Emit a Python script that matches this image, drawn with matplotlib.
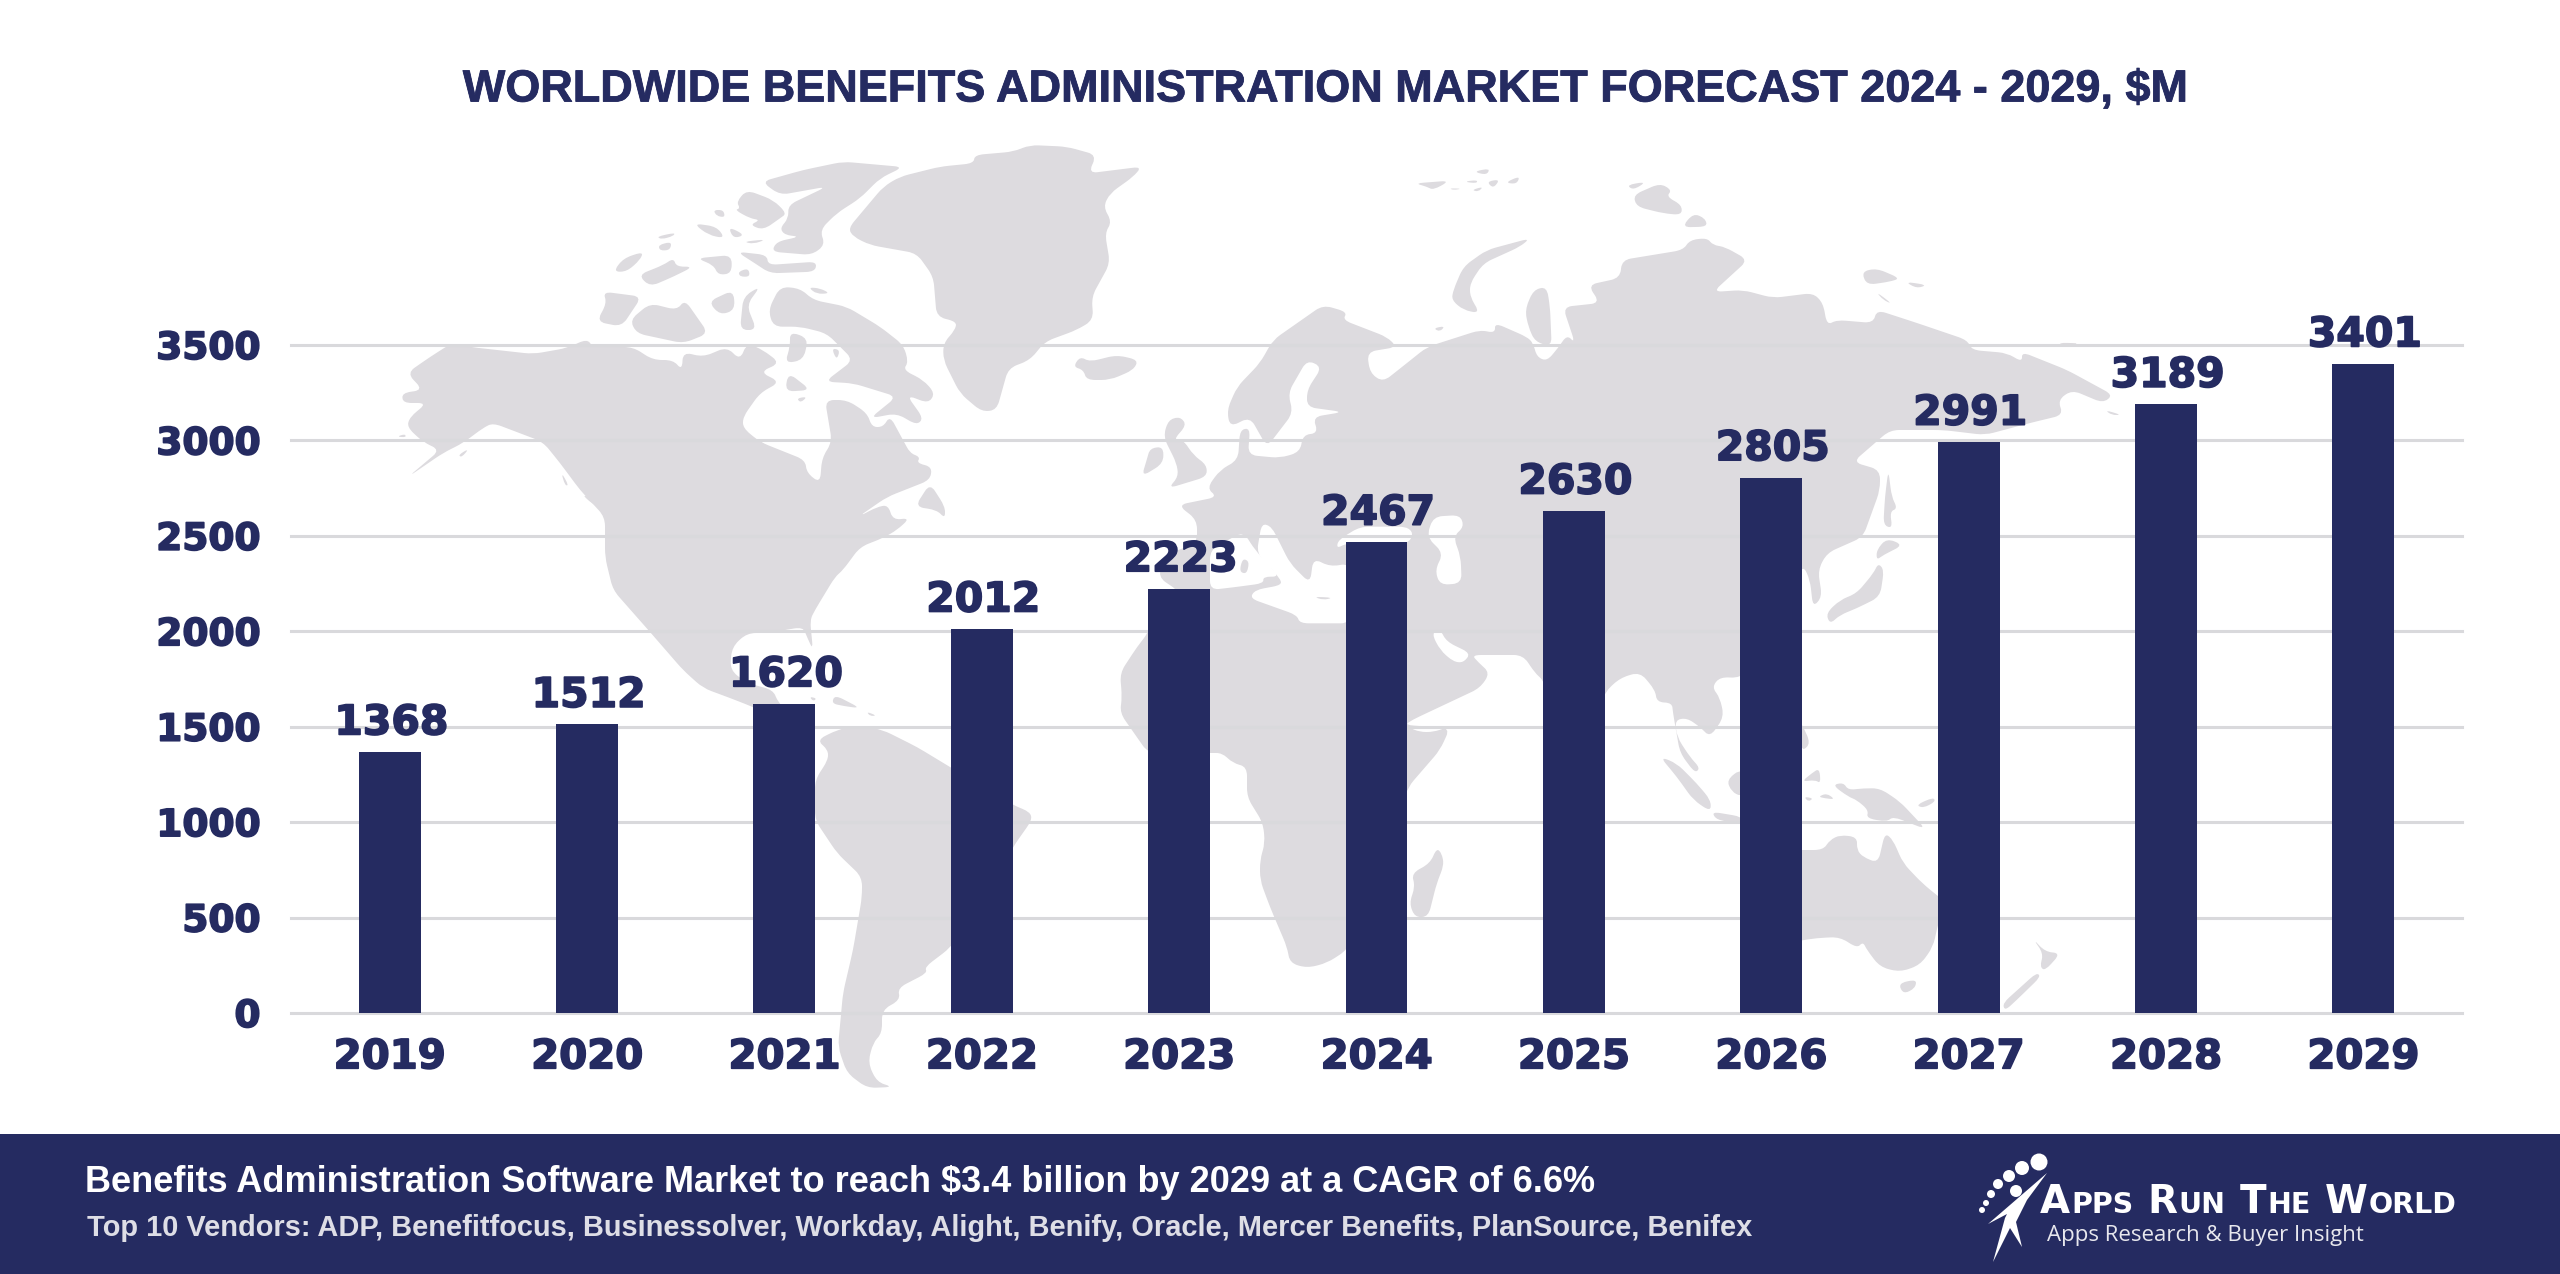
#!/usr/bin/env python3
"""Worldwide benefits administration market forecast chart."""

import math

import matplotlib
matplotlib.use("Agg")
import matplotlib.patheffects as pe
import matplotlib.pyplot as plt
from matplotlib.patches import Circle, PathPatch, Polygon, Rectangle
from matplotlib.path import Path

NAVY = "#252B61"
MAP_GRAY = "#DDDBDF"
GRID = "#D9D9DC"
FONT = ["Liberation Sans", "DejaVu Sans"]

years = ["2019", "2020", "2021", "2022", "2023", "2024", "2025", "2026", "2027", "2028", "2029"]
market = [1368, 1512, 1620, 2012, 2223, 2467, 2630, 2805, 2991, 3189, 3401]
y_ticks = [0, 500, 1000, 1500, 2000, 2500, 3000, 3500]

title = "WORLDWIDE BENEFITS ADMINISTRATION MARKET FORECAST 2024 - 2029, $M"
headline = "Benefits Administration Software Market to reach $3.4 billion by 2029 at a CAGR of 6.6%"
vendors = ("Top 10 Vendors: ADP, Benefitfocus, Businessolver, Workday, Alight, Benify, "
           "Oracle, Mercer Benefits, PlanSource, Benifex")

# ---------------------------------------------------------------------------
# Background map, decoration only. Outlines traced in pixels of the picture.
# ---------------------------------------------------------------------------

NORTH_AMERICA = [
    (430, 357), (452, 343), (470, 347), (533, 354), (567, 348), (587, 339), (593, 347), (633, 347),
    (653, 360), (673, 360), (682, 370), (683, 352), (703, 357), (727, 347), (740, 360), (747, 343),
    (763, 350), (780, 363), (760, 372), (780, 382), (760, 393), (743, 417), (743, 428), (760, 442),
    (805, 460), (807, 473), (820, 483), (822, 458), (832, 442), (825, 400), (847, 400), (867, 413),
    (872, 427), (883, 427), (890, 416), (903, 440), (910, 453), (920, 457), (917, 463), (932, 467),
    (930, 480), (887, 497), (858, 517), (877, 507), (888, 505), (893, 520), (910, 518), (897, 530),
    (883, 538), (860, 547), (843, 570), (835, 577), (815, 610), (810, 620), (813, 650), (807, 637),
    (803, 627), (767, 633), (747, 633), (732, 647), (730, 670), (747, 683), (773, 690), (778, 702),
    (790, 715), (805, 730), (817, 745), (790, 745), (770, 715), (753, 707), (730, 698), (703, 688),
    (683, 670), (650, 632), (613, 590), (605, 557), (605, 517), (580, 490), (560, 463), (543, 442),
    (493, 423), (483, 428), (463, 443), (443, 453), (408, 477), (440, 450), (423, 442), (407, 427),
    (410, 417), (427, 403), (403, 403), (402, 393), (423, 390), (407, 373),
]
SOUTH_AMERICA = [
    (817, 740), (828, 750), (828, 760), (815, 780), (815, 820), (837, 853), (862, 877), (862, 897),
    (853, 950), (843, 993), (838, 1047), (847, 1073), (867, 1088), (893, 1087), (877, 1082),
    (868, 1063), (873, 1043), (882, 1033), (882, 1010), (900, 1000), (898, 988), (927, 973),
    (925, 967), (950, 948), (985, 900), (1013, 847), (1032, 820), (1030, 812), (1013, 805),
    (950, 767), (917, 747), (883, 730), (857, 725), (837, 730),
]
EURASIA_AFRICA = [
    (1178, 505), (1217, 497), (1207, 488), (1220, 470), (1238, 460), (1240, 430), (1250, 428),
    (1248, 455), (1280, 458), (1300, 452), (1303, 435), (1318, 433), (1313, 417), (1343, 412),
    (1307, 407), (1307, 390), (1322, 367), (1307, 360), (1288, 393), (1293, 413), (1280, 430),
    (1267, 447), (1250, 417), (1230, 427), (1227, 410), (1237, 387), (1260, 363), (1273, 340),
    (1323, 305), (1347, 312), (1343, 320), (1387, 337), (1397, 347), (1367, 352), (1370, 373),
    (1383, 382), (1407, 363), (1427, 347), (1480, 330), (1495, 333), (1495, 323), (1527, 337),
    (1533, 343), (1537, 357), (1547, 361), (1558, 348), (1567, 335), (1575, 343), (1563, 307),
    (1600, 303), (1588, 285), (1620, 278), (1622, 260), (1683, 250), (1690, 240), (1707, 238),
    (1713, 245), (1725, 247), (1748, 260), (1713, 292), (1743, 290), (1773, 298), (1813, 293),
    (1823, 303), (1827, 325), (1837, 320), (1873, 323), (1877, 310), (1917, 323), (1967, 340),
    (1972, 350), (2007, 353), (2022, 362), (2022, 352), (2067, 370), (2113, 395), (2103, 403),
    (2072, 390), (2058, 400), (2063, 415), (2030, 423), (1985, 435), (1943, 430), (1890, 430),
    (1853, 462), (1880, 470), (1880, 490), (1863, 537), (1827, 553), (1818, 570), (1822, 597),
    (1813, 607), (1810, 580), (1803, 565), (1760, 660), (1740, 678), (1720, 677), (1712, 687),
    (1720, 698), (1724, 717), (1710, 737), (1700, 727), (1687, 718), (1675, 720), (1677, 737),
    (1690, 757), (1700, 768), (1695, 773), (1680, 753), (1673, 713), (1672, 703), (1657, 702),
    (1655, 690), (1640, 672), (1620, 678), (1605, 692), (1590, 730), (1575, 745), (1560, 720),
    (1543, 680), (1535, 673), (1523, 655), (1472, 655), (1478, 662), (1490, 673), (1480, 688),
    (1412, 720), (1405, 725), (1450, 728), (1440, 750), (1408, 787), (1375, 890), (1347, 950),
    (1327, 963), (1307, 968), (1290, 963), (1287, 947), (1270, 907), (1260, 880), (1260, 860),
    (1265, 843), (1263, 823), (1247, 797), (1247, 767), (1233, 763), (1222, 753), (1210, 753),
    (1148, 753), (1120, 713), (1122, 697), (1120, 673), (1137, 647), (1148, 633), (1160, 600),
    (1180, 592), (1158, 577), (1165, 555), (1197, 543), (1197, 520),
]
AUSTRALIA = [
    (1740, 850), (1802, 850), (1823, 850), (1830, 840), (1840, 835), (1857, 837), (1857, 850),
    (1863, 857), (1878, 863), (1885, 833), (1893, 840), (1903, 863), (1922, 883), (1939, 897),
    (1950, 905), (1939, 920), (1933, 947), (1920, 965), (1900, 972), (1880, 967), (1867, 950),
    (1863, 942), (1857, 948), (1840, 937), (1817, 938), (1740, 950),
]

# Smaller shapes given as (left, top of the zoomed crop, points at 3x).
ISLANDS = [
    (380, 130, [(1270, 120), (1145, 155), (1200, 195), (1340, 170), (1225, 225), (1225, 265), (1200, 295),
                (1215, 315), (1260, 320), (1190, 335), (1175, 365), (1295, 375), (1335, 345), (1320, 300),
                (1370, 250), (1440, 205), (1500, 145), (1570, 111), (1390, 95)]),
    (380, 130, [(1100, 180), (1070, 215), (1080, 235), (1065, 240), (1110, 265), (1140, 270), (1110, 285),
                (1150, 300), (1200, 265), (1220, 250), (1180, 210)]),
    (380, 130, [(1000, 240), (1030, 240), (1035, 262), (1010, 258)]),
    (380, 130, [(940, 280), (1010, 290), (1035, 325), (985, 315)]),
    (380, 130, [(1045, 290), (1095, 315), (1060, 325)]),
    (380, 130, [(1090, 335), (1160, 328), (1120, 342)]),
    (380, 130, [(700, 425), (730, 385), (790, 365), (780, 390), (740, 425)]),
    (380, 130, [(775, 435), (850, 405), (880, 385), (890, 410), (940, 410), (880, 440), (810, 470)]),
    (380, 130, [(950, 385), (1055, 375), (1055, 430), (1015, 435), (1000, 405)]),
    (380, 130, [(1070, 365), (1160, 375), (1165, 405), (1310, 395), (1305, 425), (1170, 430), (1125, 400)]),
    (380, 130, [(1075, 425), (1105, 415), (1110, 440), (1080, 440)]),
    (380, 130, [(830, 320), (885, 308), (880, 318), (845, 328)]),
    (380, 130, [(835, 345), (875, 335), (870, 360), (840, 362)]),
    (380, 130, [(670, 485), (785, 500), (725, 590), (650, 575), (680, 520)]),
    (380, 130, [(750, 570), (810, 520), (890, 540), (915, 510), (985, 610), (910, 640), (770, 610)]),
    (380, 130, [(985, 515), (1060, 480), (1065, 540), (1020, 555)]),
    (380, 130, [(1090, 500), (1142, 468), (1100, 525), (1130, 600), (1080, 600)]),
    (380, 130, [(1165, 540), (1200, 470), (1260, 475), (1300, 510), (1400, 530), (1500, 590), (1570, 645),
                (1585, 695), (1570, 720), (1630, 750), (1665, 790), (1645, 820), (1580, 795), (1630, 865),
                (1610, 885), (1550, 850), (1470, 865), (1550, 800), (1420, 760), (1335, 755), (1420, 690),
                (1340, 610), (1260, 590), (1180, 590)]),
    (380, 130, [(1230, 605), (1285, 625), (1270, 690), (1215, 700), (1230, 650)]),
    (380, 130, [(1225, 728), (1292, 780), (1215, 785)]),
    (380, 130, [(1355, 655), (1380, 660), (1370, 690)]),
    (380, 130, [(1250, 805), (1282, 800), (1262, 818)]),
    (380, 130, [(1285, 472), (1320, 475), (1350, 490), (1310, 492)]),
    (380, 130, [(50, 920), (75, 912), (78, 922)]),
    (380, 130, [(543, 1025), (566, 1066), (555, 1066)]),
    (380, 130, [(603, 1090), (695, 1140), (640, 1125)]),
    (380, 130, [(235, 975), (268, 955), (245, 982)]),
    # Greenland, Iceland and the British Isles
    (800, 130, [(145, 295), (250, 170), (300, 140), (420, 110), (520, 100), (525, 75), (640, 65), (690, 45),
                (800, 50), (890, 75), (865, 130), (1025, 110), (1000, 140), (930, 190), (910, 230), (935, 275),
                (915, 310), (930, 400), (875, 500), (880, 570), (830, 600), (735, 635), (690, 690), (625, 715),
                (590, 840), (545, 845), (480, 790), (430, 690), (430, 640), (465, 600), (470, 575), (410, 560),
                (400, 440), (350, 370), (210, 345), (160, 320)]),
    (800, 130, [(820, 710), (840, 680), (870, 695), (950, 675), (1015, 690), (1000, 720), (930, 750),
                (860, 750), (850, 720)]),
    (800, 130, [(1120, 930), (1150, 930), (1180, 975), (1220, 1005), (1220, 1040), (1105, 1075), (1135, 1040),
                (1130, 1000), (1090, 920), (1105, 870), (1140, 860), (1160, 885)]),
    (800, 130, [(1050, 955), (1090, 950), (1090, 1000), (1025, 1040), (1040, 990)]),
    (800, 130, [(390, 1060), (435, 1130), (435, 1165), (410, 1140), (345, 1130)]),
    # Arctic Russia
    (1200, 150, [(760, 420), (790, 350), (860, 300), (990, 265), (960, 290), (850, 340), (810, 400), (810, 440),
                 (840, 490), (790, 480), (755, 450)]),
    (1200, 150, [(975, 480), (1000, 420), (1040, 410), (1050, 470), (1055, 590), (1005, 575), (985, 530)]),
    (1200, 150, [(645, 100), (750, 92), (700, 120), (680, 110)]),
    (1200, 150, [(790, 95), (832, 90), (830, 100)]),
    (1200, 150, [(820, 65), (870, 55), (860, 75)]),
    (1200, 150, [(860, 95), (900, 88), (880, 115)]),
    (1200, 150, [(915, 98), (960, 78), (950, 102)]),
    (1200, 150, [(748, 115), (787, 116), (760, 120)]),
    (1200, 150, [(815, 120), (850, 110), (835, 125)]),
    (1200, 150, [(1280, 105), (1340, 95), (1300, 120)]),
    (1200, 150, [(700, 535), (735, 528), (720, 545)]),
    (1650, 150, [(-50, 135), (30, 100), (65, 120), (50, 140), (95, 165), (95, 195), (40, 190), (-40, 170)]),
    (1650, 150, [(95, 232), (130, 190), (165, 205), (172, 230)]),
    (1650, 150, [(635, 365), (680, 355), (750, 385), (720, 395), (650, 405)]),
    (1650, 150, [(765, 395), (832, 405), (800, 415)]),
    (1650, 150, [(678, 425), (727, 462), (700, 450)]),
    (1650, 150, [(1365, 780), (1415, 795), (1385, 795)]),
    (1650, 150, [(1225, 578), (1295, 580), (1240, 590)]),
    # Sakhalin and Japan
    (1650, 150, [(715, 960), (725, 1040), (742, 1075), (720, 1085), (727, 1135), (700, 1125), (705, 1040)]),
    (1650, 150, [(710, 1165), (760, 1185), (700, 1215), (680, 1230), (680, 1200)]),
    (1650, 150, [(685, 1240), (702, 1260), (690, 1340), (620, 1375), (570, 1395), (540, 1422), (528, 1390),
                 (570, 1350), (620, 1330), (670, 1270)]),
    # Indonesia and the Pacific
    (1600, 620, [(180, 410), (230, 430), (290, 490), (332, 540), (332, 575), (280, 540), (230, 470)]),
    (1600, 620, [(335, 575), (425, 590), (425, 610), (350, 600)]),
    (1600, 620, [(380, 480), (425, 445), (460, 500), (425, 530), (395, 515)]),
    (1600, 620, [(600, 300), (632, 370), (605, 395)]),
    (1600, 620, [(605, 485), (635, 460), (658, 445), (662, 490), (645, 480)]),
    (1600, 620, [(612, 530), (640, 535), (625, 545)]),
    (1600, 620, [(655, 530), (680, 520), (705, 538), (675, 535)]),
    (1600, 620, [(697, 495), (730, 488), (745, 510), (790, 505), (840, 505), (900, 545), (978, 628), (880, 590),
                 (860, 605), (800, 595), (805, 570), (770, 540), (745, 530)]),
    (1600, 620, [(948, 555), (1000, 532), (1006, 545), (970, 564)]),
    (1600, 620, [(895, 1090), (950, 1078), (945, 1105), (910, 1122)]),
    (1600, 620, [(1298, 955), (1335, 995), (1382, 1000), (1335, 1052), (1320, 1040), (1330, 1000)]),
    (1600, 620, [(1310, 1058), (1322, 1070), (1250, 1140), (1215, 1172), (1208, 1150)]),
    # Madagascar, Caribbean
    (1100, 620, [(1010, 685), (1025, 700), (1032, 735), (1010, 790), (985, 890), (945, 892), (928, 850),
                 (945, 800), (935, 760), (990, 730)]),
    (650, 620, [(478, 230), (500, 235), (490, 244)]),
    (650, 620, [(555, 225), (632, 265), (580, 258), (545, 250)]),
    (650, 620, [(650, 275), (680, 287), (660, 288)]),
]
# Seas punched out of the land shapes.
SEAS = [
    (1200, 150, [(30, 1320), (30, 1200), (130, 1145), (165, 1200), (240, 1280), (190, 1280), (190, 1300), (100, 1312)]),
    (1200, 150, [(185, 1120), (215, 1130), (270, 1240), (330, 1300), (340, 1225), (390, 1250), (450, 1240),
                 (450, 1420), (300, 1420), (290, 1395), (150, 1345), (165, 1320), (245, 1305), (240, 1285), (170, 1210)]),
    (1200, 150, [(410, 1195), (415, 1170), (480, 1130), (620, 1130), (640, 1150), (625, 1180), (440, 1180)]),
    (1200, 150, [(680, 1160), (700, 1100), (780, 1095), (792, 1130), (760, 1160), (782, 1220), (785, 1300),
                 (720, 1305), (705, 1260), (730, 1210)]),
    (1100, 620, [(995, 40), (1020, 28), (1040, 65), (1112, 100), (1090, 128), (1060, 125), (1020, 90)]),
    (1100, 620, [(925, 322), (1042, 322), (1000, 336), (960, 336)]),
    (650, 620, [(-5, 30), (25, 70), (52, 122), (30, 105), (-10, 60)]),
]
MAP_DETAILS = [
    (1200, 150, [(128, 1225), (148, 1235), (140, 1272), (118, 1265)]),
    (1200, 150, [(340, 1340), (400, 1343), (370, 1350)]),
    (1200, 150, [(190, 1295), (240, 1290), (225, 1310), (195, 1305)]),
]


def from_crop(origin_x, origin_y, pts):
    return [(origin_x + x / 3, origin_y + y / 3) for x, y in pts]


def rounded_patch(pts, color, radius=9.0):
    # straight edges, corners rounded over a few pixels so tips stay sharp-ish
    verts = []
    codes = []
    n = len(pts)
    for i, p in enumerate(pts):
        prev, nxt = pts[i - 1], pts[(i + 1) % n]
        d_in = math.dist(prev, p)
        d_out = math.dist(p, nxt)
        a = min(radius, 0.45 * d_in) / d_in
        b = min(radius, 0.45 * d_out) / d_out
        start = (p[0] + (prev[0] - p[0]) * a, p[1] + (prev[1] - p[1]) * a)
        end = (p[0] + (nxt[0] - p[0]) * b, p[1] + (nxt[1] - p[1]) * b)
        verts += [start, p, end]
        codes += [Path.MOVETO if i == 0 else Path.LINETO, Path.CURVE3, Path.CURVE3]
    verts.append(verts[0])
    codes.append(Path.CLOSEPOLY)
    return PathPatch(Path(verts, codes), facecolor=color, edgecolor="none")


def draw_map(bg):
    for outline in [NORTH_AMERICA, SOUTH_AMERICA, EURASIA_AFRICA, AUSTRALIA]:
        bg.add_patch(rounded_patch(outline, MAP_GRAY))
    for ox, oy, pts in ISLANDS:
        bg.add_patch(rounded_patch(from_crop(ox, oy, pts), MAP_GRAY))
    for ox, oy, pts in SEAS:
        bg.add_patch(rounded_patch(from_crop(ox, oy, pts), "white"))
    for ox, oy, pts in MAP_DETAILS:
        bg.add_patch(rounded_patch(from_crop(ox, oy, pts), MAP_GRAY))


def draw_logo(bg, fig):
    dots = [(2039, 1162, 8.5), (2022, 1168, 7), (2009, 1176, 6), (1998, 1184, 5),
            (1991, 1194, 4), (1986, 1203, 3), (1982, 1210, 3), (2016, 1191, 6)]
    for x, y, r in dots:
        bg.add_patch(Circle((x, y), r, color="white", lw=0))
    body = [(2047, 1173), (2027, 1200), (2016, 1222), (2022, 1247), (2010, 1228), (1993, 1262),
            (2005, 1218), (2007, 1214), (1988, 1224), (2010, 1205)]
    bg.add_patch(Polygon(body, closed=True, facecolor="white", edgecolor="none"))

    # small caps by hand, each piece placed after the one before it
    renderer = fig.canvas.get_renderer()
    x = 2040.0
    for piece, big in [("A", True), ("PPS ", False), ("R", True), ("UN ", False),
                       ("T", True), ("HE ", False), ("W", True), ("ORLD", False)]:
        t = bg.text(x, 1213, piece.replace(" ", ""), color="white", va="baseline", ha="left",
                    fontfamily="DejaVu Sans", fontweight="bold", fontsize=28 if big else 20.5)
        x += t.get_window_extent(renderer).width + (14 if piece.endswith(" ") else 1)
    bg.text(2047, 1235, "Apps Research & Buyer Insight", color="#E8E8EE", va="center", ha="left",
            fontfamily="Open Sans", fontsize=16)


def main():
    plt.rcParams["font.family"] = FONT
    fig = plt.figure(figsize=(25.6, 12.74), dpi=100, facecolor="white")

    # same colour outline makes the bold faces as heavy as the original type
    heavy = [pe.withStroke(linewidth=1.2, foreground=NAVY)]
    heavy_title = [pe.withStroke(linewidth=0.6, foreground=NAVY)]

    bg = fig.add_axes([0, 0, 1, 1], zorder=0)
    bg.set_xlim(0, 2560)
    bg.set_ylim(1274, 0)
    bg.axis("off")
    draw_map(bg)
    bg.add_patch(Rectangle((0, 1134), 2560, 140, facecolor=NAVY, edgecolor="none"))

    ax = fig.add_axes([291 / 2560, 1 - 1013 / 1274, 2171 / 2560, 668 / 1274], zorder=1)
    ax.patch.set_visible(False)
    x = range(len(years))
    ax.bar(x, market, width=0.314, color=NAVY, zorder=3)
    ax.set_xlim(-0.5, len(years) - 0.5)
    ax.set_ylim(0, 3500)
    ax.set_xticks(list(x))
    ax.set_xticklabels(years)
    ax.set_yticks(y_ticks)
    ax.grid(axis="y", color=GRID, linewidth=2.2, zorder=1)
    ax.set_axisbelow(True)
    for gl in ax.get_ygridlines():
        gl.set_clip_on(False)
    for side in ax.spines.values():
        side.set_visible(False)
    ax.tick_params(axis="x", length=0, pad=17.5, labelsize=29, labelcolor=NAVY)
    ax.tick_params(axis="y", length=0, pad=22, labelsize=27, labelcolor=NAVY)
    for lab in ax.get_xticklabels() + ax.get_yticklabels():
        lab.set_fontweight("bold")
        lab.set_fontfamily("DejaVu Sans")
        lab.set_path_effects(heavy)

    for i, v in enumerate(market):
        ax.annotate(str(v), (i, v), xytext=(1.2, 20.5), textcoords="offset points", ha="center", va="center",
                    fontsize=29.5, fontweight="bold", fontfamily="DejaVu Sans", color=NAVY,
                    annotation_clip=False, zorder=4, path_effects=heavy)

    bg.text(1325, 90, title, ha="center", va="center", color=NAVY, fontsize=32.4, fontweight="bold",
            path_effects=heavy_title)
    bg.text(85, 1182, headline, ha="left", va="center", color="white", fontsize=26, fontweight="bold")
    bg.text(87, 1228, vendors, ha="left", va="center", color="#DEDEE6", fontsize=20.9, fontweight="bold")
    draw_logo(bg, fig)

    fig.savefig("out.png", dpi=100)


if __name__ == "__main__":
    main()
